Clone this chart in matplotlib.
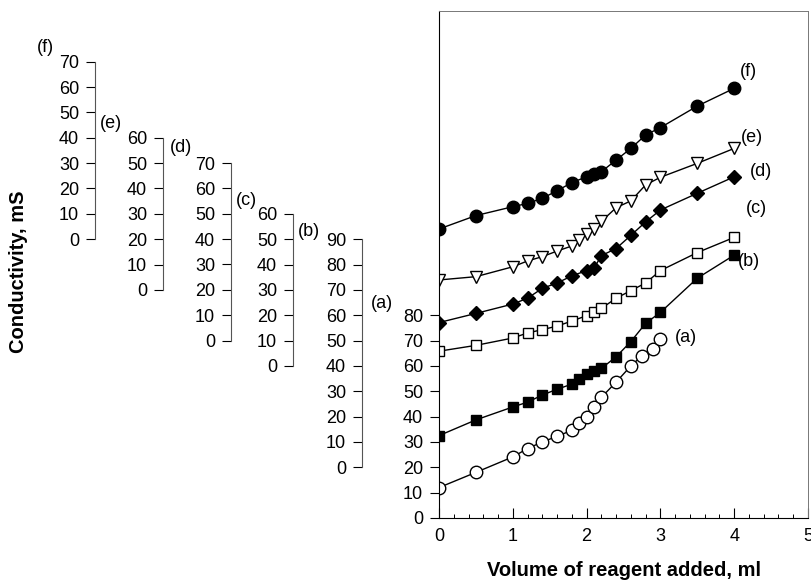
import matplotlib
matplotlib.use("Agg")
import matplotlib.pyplot as plt
from matplotlib.ticker import MultipleLocator

plt.rcParams['font.family'] = ['Liberation Sans', 'DejaVu Sans']

# data, each curve in the units of its own offset y axis
xa = [0, 0.5, 1.0, 1.2, 1.4, 1.6, 1.8, 1.9, 2.0, 2.1, 2.2, 2.4, 2.6, 2.75, 2.9, 3.0]
ya = [12.0, 18.0, 24.1, 27.4, 30.0, 32.2, 34.6, 37.4, 39.7, 43.7, 47.6, 53.6, 60.0, 64.0, 66.8, 70.5]

xb = [0, 0.5, 1.0, 1.2, 1.4, 1.6, 1.8, 1.9, 2.0, 2.1, 2.2, 2.4, 2.6, 2.8, 3.0, 3.5, 4.0]
yb = [12.5, 18.7, 23.8, 25.7, 28.5, 30.8, 32.8, 34.7, 36.7, 38.0, 39.0, 43.6, 49.6, 56.8, 61.1, 74.6, 83.7]

xc = [0, 0.5, 1.0, 1.2, 1.4, 1.6, 1.8, 2.0, 2.1, 2.2, 2.4, 2.6, 2.8, 3.0, 3.5, 4.0]
yc = [5.8, 8.1, 11.0, 13.0, 14.3, 15.7, 17.7, 19.8, 21.1, 22.7, 26.7, 29.7, 32.7, 37.6, 44.7, 50.7]

xd = [0, 0.5, 1.0, 1.2, 1.4, 1.6, 1.8, 2.0, 2.1, 2.2, 2.4, 2.6, 2.8, 3.0, 3.5, 4.0]
yd = [7.1, 10.7, 14.4, 16.7, 20.6, 22.7, 25.5, 27.6, 28.5, 33.5, 36.3, 41.5, 46.8, 51.5, 58.1, 64.6]

xe = [0, 0.5, 1.0, 1.2, 1.4, 1.6, 1.8, 1.9, 2.0, 2.1, 2.2, 2.4, 2.6, 2.8, 3.0, 3.5, 4.0]
ye = [3.9, 5.2, 9.1, 11.4, 13.1, 15.3, 17.3, 19.5, 22.0, 24.2, 27.0, 32.4, 35.1, 41.4, 44.4, 49.9, 55.8]

xf = [0, 0.5, 1.0, 1.2, 1.4, 1.6, 1.8, 2.0, 2.1, 2.2, 2.4, 2.6, 2.8, 3.0, 3.5, 4.0]
yf = [4.0, 9.3, 12.8, 14.1, 16.1, 19.1, 22.3, 24.6, 25.7, 26.6, 31.2, 35.8, 41.1, 44.0, 52.5, 59.5]

names = ['(a)', '(b)', '(c)', '(d)', '(e)', '(f)']
offsets = [0, 20, 60, 70, 90, 110]     # where each axis' zero sits on the main scale
axis_max = [80, 90, 60, 70, 60, 70]

W, H = 811, 587
fig = plt.figure(figsize=(W / 100, H / 100), dpi=100)

# main axes in pixel coords
L, R, T, B = 439, 808, 11, 518
ax = fig.add_axes([L / W, (H - B) / H, (R - L) / W, (B - T) / H])
ax.set_xlim(0, 5)
ax.set_ylim(0, 200)
ppu = (B - T) / 200.0

for s in ['top', 'right']:
    ax.spines[s].set_color('#777777')
    ax.spines[s].set_linewidth(0.7)
for s in ['left', 'bottom']:
    ax.spines[s].set_linewidth(0.8)
ax.set_yticks(range(0, 81, 10))
ax.xaxis.set_major_locator(MultipleLocator(1))
ax.xaxis.set_minor_locator(MultipleLocator(0.2))
ax.tick_params(axis='x', which='major', direction='in', length=7, width=0.8, pad=7, labelsize=13)
ax.tick_params(axis='x', which='minor', direction='in', length=3, width=0.7)
ax.tick_params(axis='y', direction='out', length=6.5, width=0.8, pad=5, labelsize=13)

lk = dict(color='black', lw=1.0, mec='black', mew=1.0)
ax.plot(xa, [v + offsets[0] for v in ya], marker='o', ms=9, mfc='white', **lk)
ax.plot(xb, [v + offsets[1] for v in yb], marker='s', ms=7.5, mfc='black', **lk)
ax.plot(xc, [v + offsets[2] for v in yc], marker='s', ms=7.5, mfc='white', **lk)
ax.plot(xd, [v + offsets[3] for v in yd], marker='D', ms=7, mfc='black', **lk)
ax.plot(xe, [v + offsets[4] for v in ye], marker='v', ms=9, mfc='white', **lk)
ax.plot(xf, [v + offsets[5] for v in yf], marker='o', ms=9, mfc='black', **lk)

# stacked offset axes for (b)..(f)
spine_x = [None, 362, 293, 231, 163, 95]
for k in range(1, 6):
    y0 = B - offsets[k] * ppu
    hh = axis_max[k] * ppu
    a2 = fig.add_axes([spine_x[k] / W, (H - y0) / H, 1.0 / W, hh / H])
    a2.patch.set_visible(False)
    for s in ['top', 'right', 'bottom']:
        a2.spines[s].set_visible(False)
    a2.spines['left'].set_color('#555555')
    a2.spines['left'].set_linewidth(0.8)
    a2.set_ylim(0, axis_max[k])
    a2.set_yticks(range(0, axis_max[k] + 1, 10))
    a2.set_xticks([])
    a2.tick_params(axis='y', direction='out', length=6.5, width=0.8, pad=5, labelsize=13)

# axis names
axis_lab = [(382, 303), (309, 232), (246, 201), (181, 148), (111, 123), (45, 48)]
for k in range(6):
    fig.text(axis_lab[k][0] / W, 1 - axis_lab[k][1] / H, names[k], fontsize=13,
             ha='center', va='center')

# curve names
curve_lab = [(686, 337), (749, 261), (756, 209), (761, 171), (752, 138), (748, 72)]
for k in range(6):
    fig.text(curve_lab[k][0] / W, 1 - curve_lab[k][1] / H, names[k], fontsize=13,
             ha='center', va='center')

fig.text(19 / W, 1 - 272 / H, 'Conductivity, mS', rotation=90, fontsize=14.5,
         fontweight='bold', ha='center', va='center')
fig.text(624 / W, 1 - 570 / H, 'Volume of reagent added, ml', fontsize=14.5,
         fontweight='bold', ha='center', va='center')

fig.savefig('out.png', dpi=100)
